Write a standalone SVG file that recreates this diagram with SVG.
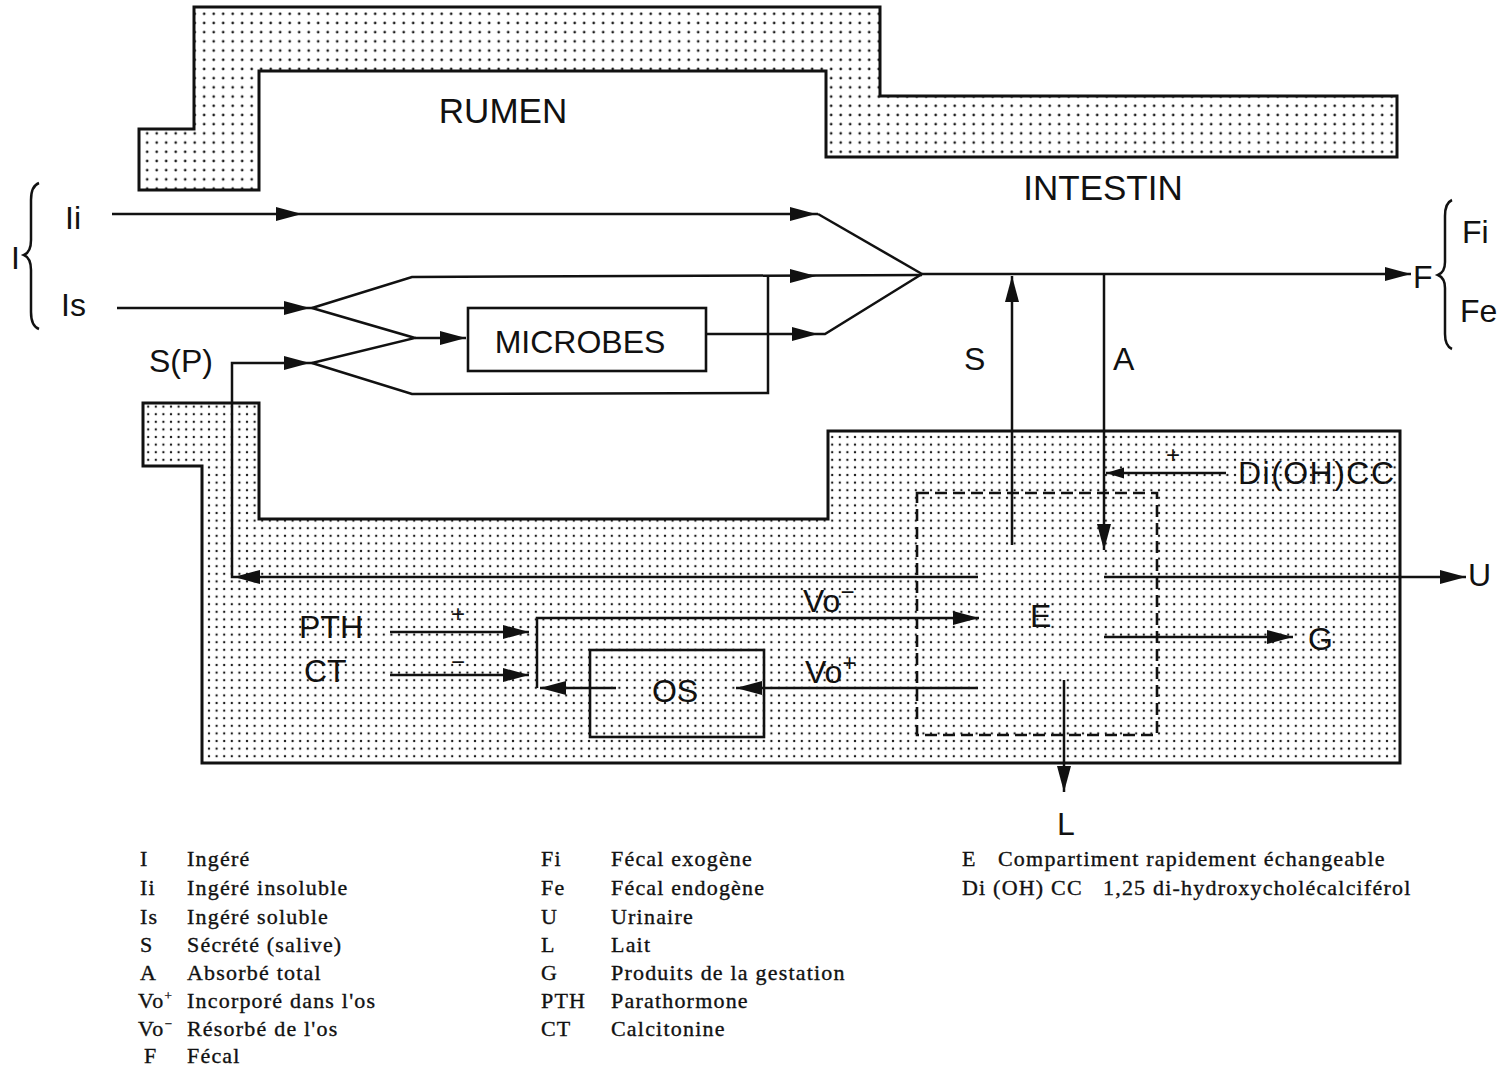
<svg xmlns="http://www.w3.org/2000/svg" xmlns:xlink="http://www.w3.org/1999/xlink" width="1502" height="1071" viewBox="0 0 1502 1071">
<style>
.wall{stroke:#111;stroke-width:3;stroke-linejoin:miter}
.ln{stroke:#111;stroke-width:2.5;fill:none}
.box{stroke:#111;stroke-width:2.6;fill:none}
.dash{stroke:#111;stroke-width:2.6;fill:none;stroke-dasharray:12 6}
.lbl{font-family:"Liberation Sans",Arial,sans-serif;font-size:32px;fill:#111}
.big{font-family:"Liberation Sans",Arial,sans-serif;font-size:35px;fill:#111}
.sm{font-family:"Liberation Sans",Arial,sans-serif;font-size:24px;fill:#111}
.leg{font-family:"Liberation Serif","Times New Roman",serif;font-size:22px;letter-spacing:1.2px;fill:#111;stroke:#111;stroke-width:0.35}
</style>
<defs>
<pattern id="dotsA" width="9.5" height="9.2" patternUnits="userSpaceOnUse"><rect width="9.5" height="9.2" fill="#fff"/><circle cx="4.7" cy="4.6" r="1.35" fill="#1a1a1a"/></pattern>
<pattern id="dotsB" width="7.6" height="7.6" patternUnits="userSpaceOnUse"><rect width="7.6" height="7.6" fill="#fff"/><circle cx="3.8" cy="3.8" r="1.2" fill="#1a1a1a"/></pattern>
<path id="ah" d="M0,0 L-26,-7 L-26,7 Z" fill="#111"/>
<path id="ahs" d="M0,0 L-18,-5.5 L-18,5.5 Z" fill="#111"/>
</defs>
<rect width="1502" height="1071" fill="#fff"/>

<g id="upper-wall">
<path class="wall" fill="url(#dotsA)" d="M139,129 L194,129 L194,7 L880,7 L880,96 L1397,96 L1397,157 L826,157 L826,71 L259,71 L259,190 L139,190 Z"/>
<text class="big" x="503" y="123" text-anchor="middle">RUMEN</text>
<text class="big" x="1103" y="200" text-anchor="middle">INTESTIN</text>
</g>

<g id="lower-wall">
<path class="wall" fill="url(#dotsB)" d="M143,403 L259,403 L259,519 L828,519 L828,431 L1400,431 L1400,763 L202,763 L202,466 L143,466 Z"/>
</g>

<g id="microbes">
<rect class="box" x="468" y="308" width="238" height="63" fill="#fff"/>
<text class="lbl" x="580" y="353" text-anchor="middle">MICROBES</text>
</g>

<g id="os">
<rect class="box" x="590" y="650" width="174" height="87"/>
<text class="lbl" x="675" y="702" text-anchor="middle">OS</text>
</g>

<g id="e-compartment">
<rect class="dash" x="917" y="493" width="240" height="242"/>
<text class="lbl" x="1030" y="627">E</text>
</g>

<g id="connectors">
<line class="ln" x1="112" y1="214" x2="818" y2="214"/>
<polyline class="ln" points="818,214 922,274"/>
<line class="ln" x1="117" y1="308" x2="312" y2="308"/>
<polyline class="ln" points="312,308 412,277 922,275"/>
<polyline class="ln" points="768,277 768,393 412,394 312,363"/>
<polyline class="ln" points="312,308 415,338 312,363"/>
<line class="ln" x1="415" y1="338" x2="466" y2="338"/>
<polyline class="ln" points="978,577 232,577 232,363 312,363"/>
<polyline class="ln" points="706,334 825,334 922,274"/>
<line class="ln" x1="922" y1="274" x2="1411" y2="274"/>
<line class="ln" x1="1012" y1="545" x2="1012" y2="276"/>
<line class="ln" x1="1104" y1="274" x2="1104" y2="550"/>
<line class="ln" x1="1226" y1="473" x2="1106" y2="473"/>
<line class="ln" x1="1104" y1="577" x2="1466" y2="577"/>
<line class="ln" x1="390" y1="632" x2="529" y2="632"/>
<line class="ln" x1="390" y1="675" x2="529" y2="675"/>
<line class="ln" x1="616" y1="688" x2="540" y2="688"/>
<polyline class="ln" points="537,688 537,618 979,618"/>
<line class="ln" x1="978" y1="688" x2="736" y2="688"/>
<line class="ln" x1="1104" y1="637" x2="1293" y2="637"/>
<line class="ln" x1="1064" y1="680" x2="1064" y2="792"/>
<use xlink:href="#ah" transform="translate(302,214)"/>
<use xlink:href="#ah" transform="translate(310,308)"/>
<use xlink:href="#ah" transform="translate(310,363)"/>
<use xlink:href="#ah" transform="translate(466,338)"/>
<use xlink:href="#ah" transform="translate(816,214)"/>
<use xlink:href="#ah" transform="translate(816,276)"/>
<use xlink:href="#ah" transform="translate(818,334)"/>
<use xlink:href="#ah" transform="translate(1411,274)"/>
<use xlink:href="#ah" transform="translate(1012,276) rotate(-90)"/>
<use xlink:href="#ah" transform="translate(1104,550) rotate(90)"/>
<use xlink:href="#ahs" transform="translate(1106,473) rotate(180)"/>
<use xlink:href="#ah" transform="translate(234,577) rotate(180)"/>
<use xlink:href="#ah" transform="translate(1466,577)"/>
<use xlink:href="#ah" transform="translate(529,632)"/>
<use xlink:href="#ah" transform="translate(529,675)"/>
<use xlink:href="#ah" transform="translate(979,618)"/>
<use xlink:href="#ah" transform="translate(736,688) rotate(180)"/>
<use xlink:href="#ah" transform="translate(540,688) rotate(180)"/>
<use xlink:href="#ah" transform="translate(1293,637)"/>
<use xlink:href="#ah" transform="translate(1064,792) rotate(90)"/>
<path class="ln" d="M39,183 Q31,186 31,200 L31,240 Q31,252 24,255 Q31,258 31,270 L31,312 Q31,326 39,329"/>
<path class="ln" d="M1452,200 Q1445,203 1445,216 L1445,262 Q1445,272 1438,275 Q1445,278 1445,288 L1445,334 Q1445,346 1452,349"/>
</g>

<g id="labels">
<text class="lbl" x="11" y="269">I</text>
<text class="lbl" x="65" y="229">Ii</text>
<text class="lbl" x="61" y="316">Is</text>
<text class="lbl" x="149" y="372">S(P)</text>
<text class="lbl" x="964" y="370">S</text>
<text class="lbl" x="1113" y="370">A</text>
<text class="lbl" x="1413" y="288">F</text>
<text class="lbl" x="1462" y="243">Fi</text>
<text class="lbl" x="1460" y="322">Fe</text>
<text class="lbl" x="1238" y="484" textLength="156">Di(OH)CC</text>
<text class="sm" x="1173" y="463" text-anchor="middle">+</text>
<text class="lbl" x="1468" y="586">U</text>
<text class="lbl" x="1308" y="650">G</text>
<text class="lbl" x="1057" y="835">L</text>
<text class="lbl" x="299" y="638">PTH</text>
<text class="lbl" x="304" y="682">CT</text>
<text class="sm" x="458" y="622" text-anchor="middle">+</text>
<text class="sm" x="458" y="670" text-anchor="middle">−</text>
<text class="lbl" x="803" y="612">Vo<tspan font-size="24" dy="-12">−</tspan></text>
<text class="lbl" x="805" y="683">Vo<tspan font-size="24" dy="-12">+</tspan></text>
</g>

<g id="legend">
<text class="leg" x="140" y="866">I</text><text class="leg" x="187" y="866">Ingéré</text>
<text class="leg" x="140" y="895">Ii</text><text class="leg" x="187" y="895">Ingéré insoluble</text>
<text class="leg" x="140" y="924">Is</text><text class="leg" x="187" y="924">Ingéré soluble</text>
<text class="leg" x="140" y="952">S</text><text class="leg" x="187" y="952">Sécrété (salive)</text>
<text class="leg" x="140" y="980">A</text><text class="leg" x="187" y="980">Absorbé total</text>
<text class="leg" x="138" y="1008">Vo<tspan font-size="13" dy="-8">+</tspan></text><text class="leg" x="187" y="1008">Incorporé dans l'os</text>
<text class="leg" x="138" y="1036">Vo<tspan font-size="13" dy="-8">−</tspan></text><text class="leg" x="187" y="1036">Résorbé de l'os</text>
<text class="leg" x="144" y="1063">F</text><text class="leg" x="187" y="1063">Fécal</text>

<text class="leg" x="541" y="866">Fi</text><text class="leg" x="611" y="866">Fécal exogène</text>
<text class="leg" x="541" y="895">Fe</text><text class="leg" x="611" y="895">Fécal endogène</text>
<text class="leg" x="541" y="924">U</text><text class="leg" x="611" y="924">Urinaire</text>
<text class="leg" x="541" y="952">L</text><text class="leg" x="611" y="952">Lait</text>
<text class="leg" x="541" y="980">G</text><text class="leg" x="611" y="980">Produits de la gestation</text>
<text class="leg" x="541" y="1008">PTH</text><text class="leg" x="611" y="1008">Parathormone</text>
<text class="leg" x="541" y="1036">CT</text><text class="leg" x="611" y="1036">Calcitonine</text>

<text class="leg" x="962" y="866">E</text><text class="leg" x="998" y="866">Compartiment rapidement échangeable</text>
<text class="leg" x="962" y="895">Di (OH) CC</text><text class="leg" x="1103" y="895">1,25 di-hydroxycholécalciférol</text>
</g>
</svg>
